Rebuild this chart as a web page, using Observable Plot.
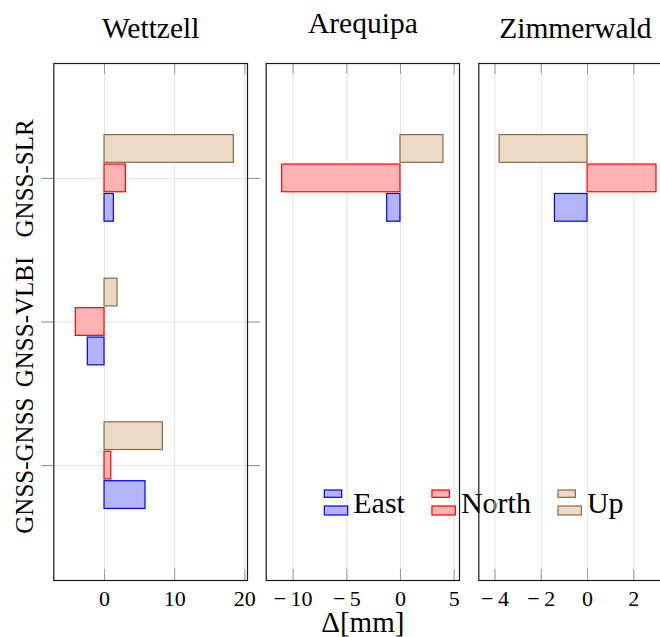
<!DOCTYPE html>
<html><head><meta charset="utf-8">
<script src="https://cdn.jsdelivr.net/npm/d3@7"></script>
<script src="https://cdn.jsdelivr.net/npm/@observablehq/plot@0.6"></script>
<style>
html,body{margin:0;padding:0;background:#fff;overflow:hidden}
#chart{position:relative;width:660px;height:637px;overflow:hidden;font-family:"Liberation Serif","Times New Roman","DejaVu Serif",serif;background:#fff}
#chart svg{position:absolute;top:0}
#chart svg text{font-family:"Liberation Serif","Times New Roman","DejaVu Serif",serif !important}
</style></head><body><div id="chart"></div>
<script>
// ---- data ----
const stations = ["Wettzell", "Arequipa", "Zimmerwald"];
const categories = ["GNSS-GNSS", "GNSS-VLBI", "GNSS-SLR"];
const components = ["East", "North", "Up"];
const wettzellEast  = [5.84, -2.38, 1.33];
const wettzellNorth = [0.96, -4.09, 3.04];
const wettzellUp    = [8.31, 1.85, 18.43];
const arequipaEast  = [null, null, -1.24];
const arequipaNorth = [null, null, -11.02];
const arequipaUp    = [null, null, 4.0];
const zimmerwaldEast  = [null, null, -1.41];
const zimmerwaldNorth = [null, null, 2.98];
const zimmerwaldUp    = [null, null, -3.8];
const wettzellTicks   = [0, 10, 20];
const arequipaTicks   = [-10, -5, 0, 5];
const zimmerwaldTicks = [-4, -2, 0, 2];
const xLabel = "Δ[mm]";

// ---- styling / layout ----
const FONT = '"Liberation Serif","Times New Roman","DejaVu Serif",serif';
const fills   = {East: "#b3b3ff", North: "#ffb3b3", Up: "#ecdac6"};
const strokes = {East: "#0000ff", North: "#ff0000", Up: "#8c6a48"};
const seriesByStation = [
  [wettzellEast, wettzellNorth, wettzellUp],
  [arequipaEast, arequipaNorth, arequipaUp],
  [zimmerwaldEast, zimmerwaldNorth, zimmerwaldUp]
];
const ticksByStation = [wettzellTicks, arequipaTicks, zimmerwaldTicks];
const panels = [
  {left: 0,   width: 260, ml: 53.3, mr: 13,  domain: [-7.23, 20.38], titleDy: -25.7},
  {left: 260, width: 200, ml: 5.7,  mr: 1,   domain: [-12.51, 5.5],  titleDy: -31},
  {left: 470, width: 210, ml: 8.3,  mr: 8.5, domain: [-4.70, 3.65],  titleDy: -25.7}
];
const H = 637, MT = 63, MB = 57, frameH = H - MT - MB;
const offset = 0.205, half = 0.0965;
const fmt = d => d < 0 ? "\u2212\u2009" + Math.abs(d) : String(d);

const chart = document.getElementById("chart");

function makePanel(i) {
  const p = panels[i];
  const ticks = ticksByStation[i];
  const rows = [];
  categories.forEach((cat, ci) => {
    components.forEach((comp, k) => {
      const v = seriesByStation[i][k][ci];
      if (v != null) rows.push({category: cat, component: comp, value: v, pos: ci + (k - 1) * offset});
    });
  });
  const marks = [
    Plot.gridX(ticks, {stroke: "#e4e4e4", strokeOpacity: 1})
  ];
  if (i === 0) marks.push(Plot.gridY(categories.map((c, ci) => ci), {stroke: "#e4e4e4", strokeOpacity: 1}));
  marks.push(
    Plot.tickX(ticks, {x: d => d, insetTop: frameH - 11, stroke: "#999"}),
    Plot.tickX(ticks, {x: d => d, insetBottom: frameH - 11, stroke: "#999"}),
    Plot.rect(rows, {
      x1: () => 0, x2: "value",
      y1: d => d.pos - half, y2: d => d.pos + half,
      fill: d => fills[d.component], stroke: d => strokes[d.component], strokeWidth: 1.2
    })
  );
  if (i === 0) {
    const idx = categories.map((c, ci) => ci);
    marks.push(
      Plot.axisY(idx, {anchor: "left", tickSize: 12, tickFormat: () => "", stroke: "#888", label: null}),
      Plot.axisY(idx, {anchor: "right", tickSize: 12, tickFormat: () => "", stroke: "#888", label: null}),
      Plot.text(categories, {y: (d, ci) => ci, text: d => d, frameAnchor: "left", rotate: -90,
        dx: -21.3, lineAnchor: "bottom", textAnchor: "middle", fontSize: 25, fill: "black"})
    );
  }
  marks.push(
    Plot.axisX(ticks, {tickSize: 0, tickPadding: 10, fontSize: 22, tickFormat: fmt, label: null, fill: "black"}),
    Plot.text([stations[i]], {text: d => d, frameAnchor: "top", lineAnchor: "bottom", dy: p.titleDy, fontSize: 29.5, fill: "black"})
  );
  if (i === 1) marks.push(Plot.text([xLabel], {text: d => d, frameAnchor: "bottom", lineAnchor: "bottom", dy: 51, fontSize: 29, fill: "black"}));
  marks.push(Plot.frame({stroke: "#1a1a1a", strokeWidth: 1.2}));

  const svg = Plot.plot({
    width: p.width, height: H,
    marginLeft: p.ml, marginRight: p.mr, marginTop: MT, marginBottom: MB,
    x: {domain: p.domain},
    y: {type: "linear", domain: [-0.8, 2.8], axis: i === 0 ? undefined : null},
    style: {background: "transparent", maxWidth: "none", overflow: "visible", fontFamily: FONT, color: "black"},
    marks
  });
  svg.setAttribute("font-family", FONT);
  svg.style.left = p.left + "px";
  return svg;
}

chart.appendChild(makePanel(0));
chart.appendChild(makePanel(1));

// legend overlay
const leg = d3.create("svg").attr("width", 660).attr("height", H)
  .style("position", "absolute").style("left", "0px").style("top", "0px").style("pointer-events", "none");
chart.appendChild(leg.node());
let lx = 324.3;
components.forEach(comp => {
  leg.append("rect").attr("x", lx).attr("y", 490).attr("width", 17.4).attr("height", 7.3)
    .attr("fill", fills[comp]).attr("stroke", strokes[comp]).attr("stroke-width", 1.2);
  leg.append("rect").attr("x", lx).attr("y", 506).attr("width", 23.4).attr("height", 9)
    .attr("fill", fills[comp]).attr("stroke", strokes[comp]).attr("stroke-width", 1.2);
  const t = leg.append("text").attr("x", lx + 29).attr("y", 513)
    .attr("font-family", FONT).attr("font-size", 30).attr("fill", "black").text(comp);
  lx = lx + 29 + t.node().getComputedTextLength() + 27;
});

chart.appendChild(makePanel(2));
</script></body></html>
